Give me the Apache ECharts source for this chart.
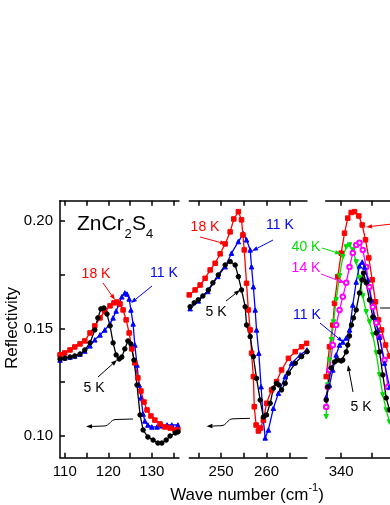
<!DOCTYPE html>
<html>
<head>
<meta charset="utf-8">
<script src="https://cdn.jsdelivr.net/npm/echarts@6/dist/echarts.min.js"></script>
<style>
  html, body { margin: 0; padding: 0; background: #fff; }
  #chart { width: 390px; height: 505px; }
</style>
</head>
<body>
<div id="chart"></div>
<script>
// wave number (cm-1), reflectivity
const left5K = [[108.9,0.1358],[110.0,0.1362],[111.2,0.1367],[112.3,0.1372],[113.5,0.1381],[114.6,0.1400],[115.8,0.1433],[116.9,0.1493],[117.6,0.1549],[118.3,0.1591],[119.0,0.1595],[119.7,0.1567],[120.4,0.1512],[121.1,0.1433],[121.8,0.1377],[122.5,0.1358],[123.1,0.1367],[123.8,0.1405],[124.5,0.1442],[125.2,0.1428],[125.9,0.1353],[126.6,0.1237],[127.3,0.1098],[128.0,0.1028],[129.1,0.0995],[130.3,0.0981],[131.4,0.0967],[132.3,0.0967],[133.3,0.0981],[134.2,0.1000],[135.4,0.1014],[136.0,0.1019]];
const left18K = [[108.9,0.1377],[110.0,0.1386],[111.2,0.1400],[112.3,0.1414],[113.5,0.1428],[114.6,0.1442],[115.8,0.1479],[116.9,0.1512],[118.1,0.1549],[119.2,0.1581],[120.4,0.1605],[121.3,0.1619],[122.0,0.1623],[122.7,0.1614],[123.4,0.1586],[124.1,0.1540],[124.8,0.1479],[125.4,0.1405],[126.1,0.1340],[126.8,0.1270],[127.5,0.1209],[128.2,0.1158],[128.9,0.1121],[129.8,0.1093],[130.7,0.1074],[131.9,0.1056],[133.0,0.1042],[134.2,0.1037],[135.3,0.1028],[136.0,0.1028]];
const left11K = [[108.9,0.1353],[110.0,0.1363],[111.2,0.1367],[112.3,0.1372],[113.5,0.1381],[114.6,0.1395],[115.8,0.1419],[116.9,0.1447],[118.1,0.1470],[119.2,0.1493],[120.4,0.1521],[121.1,0.1549],[121.8,0.1581],[122.5,0.1614],[123.1,0.1647],[123.8,0.1665],[124.3,0.1660],[124.8,0.1637],[125.2,0.1586],[125.7,0.1521],[126.1,0.1423],[126.6,0.1330],[127.1,0.1237],[127.5,0.1177],[128.0,0.1102],[128.4,0.1070],[129.1,0.1051],[130.0,0.1042],[131.2,0.1042],[132.3,0.1047],[133.5,0.1051],[134.6,0.1051],[136.0,0.1051]];

const mid5K = [[243.2,0.1601],[244.1,0.1619],[245.0,0.1633],[246.0,0.1651],[247.2,0.1679],[248.2,0.1712],[249.4,0.1749],[250.9,0.1795],[252.0,0.1811],[253.1,0.1795],[253.8,0.1741],[254.5,0.1679],[255.3,0.1601],[255.6,0.1516],[256.4,0.1462],[257.1,0.1369],[257.8,0.1268],[258.6,0.1167],[259.3,0.1088],[260.0,0.1098],[260.8,0.1152],[261.5,0.1222],[262.2,0.1245],[262.7,0.1237],[263.3,0.1214],[264.1,0.1245],[264.8,0.1292],[266.3,0.1338],[267.7,0.1369],[268.9,0.1392]];
const mid18K = [[243.0,0.1656],[244.3,0.1679],[245.4,0.1702],[246.5,0.1733],[247.6,0.1772],[248.7,0.1803],[249.8,0.1847],[250.9,0.1893],[252.0,0.1949],[252.8,0.2009],[253.8,0.2043],[254.5,0.2005],[254.8,0.1935],[255.1,0.1865],[255.6,0.1710],[256.0,0.1586],[256.4,0.1493],[256.7,0.1385],[257.1,0.1276],[257.3,0.1136],[257.7,0.1051],[258.2,0.1023],[258.7,0.1037],[259.3,0.1074],[260.0,0.1152],[261.1,0.1214],[262.2,0.1253],[263.3,0.1307],[264.8,0.1361],[266.3,0.1392],[267.7,0.1415],[268.8,0.1431]];
const mid11K = [[243.2,0.1592],[245.0,0.1628],[247.1,0.1672],[249.3,0.1742],[250.9,0.1787],[252.3,0.1850],[253.8,0.1904],[254.9,0.1940],[255.6,0.1912],[256.4,0.1865],[256.7,0.1787],[257.1,0.1694],[257.5,0.1586],[257.8,0.1493],[258.3,0.1385],[258.8,0.1229],[259.3,0.1074],[259.7,0.0991],[260.4,0.1028],[261.5,0.1129],[262.6,0.1199],[264.1,0.1276],[265.5,0.1338],[267.4,0.1377],[268.9,0.1400]];

const right18K = [[337.58,0.1276],[338.11,0.1415],[338.65,0.1516],[338.92,0.1617],[339.45,0.1741],[340.00,0.1850],[340.53,0.1943],[341.06,0.2013],[341.61,0.2039],[342.15,0.2043],[342.84,0.2023],[343.39,0.1981],[343.92,0.1912],[344.45,0.1828],[345.00,0.1726],[345.53,0.1624],[346.02,0.1540],[346.50,0.1493],[347.15,0.1423],[347.79,0.1372]];
const right40K = [[337.58,0.1090],[337.84,0.1237],[338.11,0.1353],[338.44,0.1447],[338.76,0.1530],[339.19,0.1633],[339.73,0.1744],[340.26,0.1833],[340.81,0.1879],[341.34,0.1888],[341.87,0.1865],[342.42,0.1809],[342.95,0.1735],[343.48,0.1651],[344.03,0.1577],[344.56,0.1530],[345.10,0.1470],[345.65,0.1386],[346.18,0.1284],[346.71,0.1191],[347.26,0.1121],[347.79,0.1065]];
const right14K = [[337.58,0.1135],[337.84,0.1228],[338.11,0.1307],[338.65,0.1423],[339.19,0.1516],[339.73,0.1586],[340.26,0.1647],[340.81,0.1712],[341.34,0.1786],[341.87,0.1851],[342.42,0.1888],[342.95,0.1898],[343.48,0.1865],[344.03,0.1786],[344.56,0.1693],[345.10,0.1600],[345.65,0.1526],[346.18,0.1460],[346.98,0.1353],[347.52,0.1228]];
const right11K = [[337.58,0.1181],[338.11,0.1237],[338.65,0.1307],[339.19,0.1377],[339.73,0.1423],[340.26,0.1437],[340.81,0.1456],[341.34,0.1493],[341.87,0.1609],[342.42,0.1716],[342.95,0.1791],[343.39,0.1809],[343.76,0.1786],[344.29,0.1726],[344.84,0.1633],[345.37,0.1553],[345.90,0.1493],[346.18,0.1460],[346.98,0.1339],[347.79,0.1228]];
const right5K = [[337.58,0.1167],[337.84,0.1228],[338.39,0.1316],[338.92,0.1344],[339.45,0.1353],[340.00,0.1349],[340.26,0.1353],[340.81,0.1391],[341.06,0.1423],[341.34,0.1465],[341.66,0.1516],[341.98,0.1549],[342.42,0.1586],[342.95,0.1665],[343.39,0.1726],[343.60,0.1758],[344.03,0.1712],[344.56,0.1633],[345.10,0.1553],[345.65,0.1479],[346.18,0.1391],[346.71,0.1284],[347.26,0.1177],[347.79,0.1121]];

// axis ranges and ticks per panel
const xRanges = [[108.9, 136.25], [243.02, 268.89], [337.5, 350]];
const xTicks = [[110, 115, 120, 125, 130, 135], [245, 250, 255, 260, 265], [340, 345, 350]];
const xLabels = [[110, 120, 130], [250, 260], [340, 350]];
const yRange = [0.0899, 0.2094];
const yTicks = [0.10, 0.125, 0.15, 0.175, 0.20];
const yLabels = [0.10, 0.15, 0.20];

const FONT = '"Liberation Sans", Arial, sans-serif';
const RED = '#ff0000', BLUE = '#0000ff', BLACK = '#000000', GREEN = '#00dd00', MAGENTA = '#ff00ff';

// third panel runs past the right edge of the picture, as in the original
const grids = [
  { left: 60, top: 200.7, width: 119, height: 257, outerBoundsMode: 'none', containLabel: false },
  { left: 189.3, top: 200.7, width: 117.7, height: 257, outerBoundsMode: 'none', containLabel: false },
  { left: 325.7, top: 200.7, width: 77.5, height: 257, outerBoundsMode: 'none', containLabel: false }
];

const axisLine = { show: true, lineStyle: { color: '#000', width: 1.5 } };

const xAxes = [];
['bottom', 'top'].forEach(pos => {
  grids.forEach((g, i) => {
    xAxes.push({
      type: 'value', gridIndex: i, position: pos,
      min: xRanges[i][0], max: xRanges[i][1],
      axisLine: axisLine,
      axisTick: { show: true, inside: true, length: 5, customValues: xTicks[i], lineStyle: { color: '#000', width: 1.5 } },
      axisLabel: { show: pos === 'bottom', customValues: xLabels[i], margin: 7, color: '#000', fontSize: 15, fontFamily: FONT },
      splitLine: { show: false }
    });
  });
});

const yAxes = grids.map((g, i) => ({
  type: 'value', gridIndex: i, show: i === 0,
  min: yRange[0], max: yRange[1],
  axisLine: axisLine,
  axisTick: { show: true, inside: true, length: 5, customValues: yTicks, lineStyle: { color: '#000', width: 1.5 } },
  axisLabel: { customValues: yLabels, margin: 7, color: '#000', fontSize: 15, fontFamily: FONT, formatter: v => v.toFixed(2) },
  splitLine: { show: false }
}));

const curve = (data, panel, color, symbol, size) => ({
  type: 'line', xAxisIndex: panel, yAxisIndex: panel, data: data,
  symbol: symbol, symbolSize: size, showAllSymbol: true,
  lineStyle: { color: color, width: 1.3 },
  itemStyle: { color: color, borderColor: color, borderWidth: 1 },
  z: 3
});
const DOWN = 'path://M0,0 L10,0 L5,9 Z';

const series = [
  curve(left11K, 0, BLUE, 'triangle', 4.5),
  curve(left18K, 0, RED, 'rect', 4.5),
  curve(left5K, 0, BLACK, 'circle', 4.5),
  curve(mid11K, 1, BLUE, 'triangle', 4.5),
  curve(mid18K, 1, RED, 'rect', 4.5),
  curve(mid5K, 1, BLACK, 'circle', 4.5),
  curve(right18K, 2, RED, 'rect', 4.5),
  curve(right40K, 2, GREEN, DOWN, 4.5),
  curve(right14K, 2, MAGENTA, 'emptyCircle', 4.5),
  curve(right11K, 2, BLUE, 'triangle', 4.5),
  curve(right5K, 2, BLACK, 'circle', 4.5)
];

// annotations
const label = (text, x, y, color) => ({
  type: 'text', x: x, y: y, z: 10,
  style: { text: text, fill: color, font: '14px ' + FONT, align: 'center', verticalAlign: 'middle' }
});
const pointer = (x1, y1, x2, y2, color) => {
  const a = Math.atan2(y2 - y1, x2 - x1), L = 6, W = 2.2;
  const bx = x2 - L * Math.cos(a), by = y2 - L * Math.sin(a);
  return [
    { type: 'line', z: 10, shape: { x1: x1, y1: y1, x2: bx, y2: by }, style: { stroke: color, lineWidth: 1 } },
    { type: 'polygon', z: 10, shape: { points: [[x2, y2], [bx - W * Math.sin(a), by + W * Math.cos(a)], [bx + W * Math.sin(a), by - W * Math.cos(a)]] }, style: { fill: color } }
  ];
};
// curly "this axis" arrow: straight run, S-bend, straight run, arrowhead
const squiggle = (xs, y0, xb, y1, xe) => [
  { type: 'line', z: 10, shape: { x1: xs, y1: y0, x2: xb + 6, y2: y0 + 0.5 }, style: { stroke: '#000', lineWidth: 1 } },
  { type: 'bezierCurve', z: 10, shape: { x1: xb + 6, y1: y0 + 0.5, x2: xb - 6, y2: y1, cpx1: xb, cpy1: y0 + 0.5, cpx2: xb, cpy2: y1 }, style: { stroke: '#000', lineWidth: 1, fill: null } },
  ...pointer(xb - 6, y1, xe, y1 + 0.6, BLACK)
];

const graphic = [
  { type: 'text', x: 77, y: 224.5, z: 10, style: { text: 'ZnCr', fill: '#000', font: '21px ' + FONT, verticalAlign: 'middle' } },
  { type: 'text', x: 124.5, y: 234, z: 10, style: { text: '2', fill: '#000', font: '13px ' + FONT, verticalAlign: 'middle' } },
  { type: 'text', x: 132, y: 224.5, z: 10, style: { text: 'S', fill: '#000', font: '21px ' + FONT, verticalAlign: 'middle' } },
  { type: 'text', x: 146, y: 234, z: 10, style: { text: '4', fill: '#000', font: '13px ' + FONT, verticalAlign: 'middle' } },

  label('18 K', 96, 274, RED), ...pointer(103, 283, 115, 300, RED),
  label('11 K', 164, 273, BLUE), ...pointer(152, 286, 131, 303, BLUE),
  label('5 K', 94, 388, BLACK), ...pointer(98, 377, 117, 360, BLACK),
  ...squiggle(133, 419, 110, 426, 86),

  label('18 K', 205, 227, RED), ...pointer(200, 237, 226, 244, RED),
  label('11 K', 280, 225, BLUE), ...pointer(273, 240, 252, 251, BLUE),
  label('5 K', 216, 312, BLACK), ...pointer(226, 301, 240, 290, BLACK),
  ...squiggle(250, 418.3, 227, 425.7, 206.5),

  label('40 K', 306, 247, GREEN), ...pointer(322, 248, 341, 254, GREEN),
  label('14 K', 306, 268, MAGENTA), ...pointer(321, 274, 345, 283, MAGENTA),
  label('11 K', 307, 315, BLUE), ...pointer(320, 323, 343, 342, BLUE),
  label('5 K', 361, 407, BLACK), ...pointer(353, 392, 348, 365, BLACK),
  ...pointer(392, 224, 366, 227, RED),
  { type: 'line', z: 10, shape: { x1: 380, y1: 308, x2: 392, y2: 308 }, style: { stroke: '#000', lineWidth: 1 } },

  { type: 'text', x: 12, y: 328, rotation: Math.PI / 2, z: 10,
    style: { text: 'Reflectivity', fill: '#000', font: '17px ' + FONT, align: 'center', verticalAlign: 'middle' } },
  { type: 'text', x: 247, y: 493, z: 10,
    style: {
      text: '{a|Wave number (cm}{b|-1}{a|)}', align: 'center', verticalAlign: 'middle',
      rich: {
        a: { fontSize: 17, fontFamily: FONT, fill: '#000', lineHeight: 22, verticalAlign: 'bottom' },
        b: { fontSize: 11, fontFamily: FONT, fill: '#000', lineHeight: 22, verticalAlign: 'top' }
      }
    } }
];

const chart = echarts.init(document.getElementById('chart'), null, { renderer: 'canvas' });
chart.setOption({
  animation: false,
  backgroundColor: '#fff',
  grid: grids,
  xAxis: xAxes,
  yAxis: yAxes,
  series: series,
  graphic: graphic
});
</script>
</body>
</html>
